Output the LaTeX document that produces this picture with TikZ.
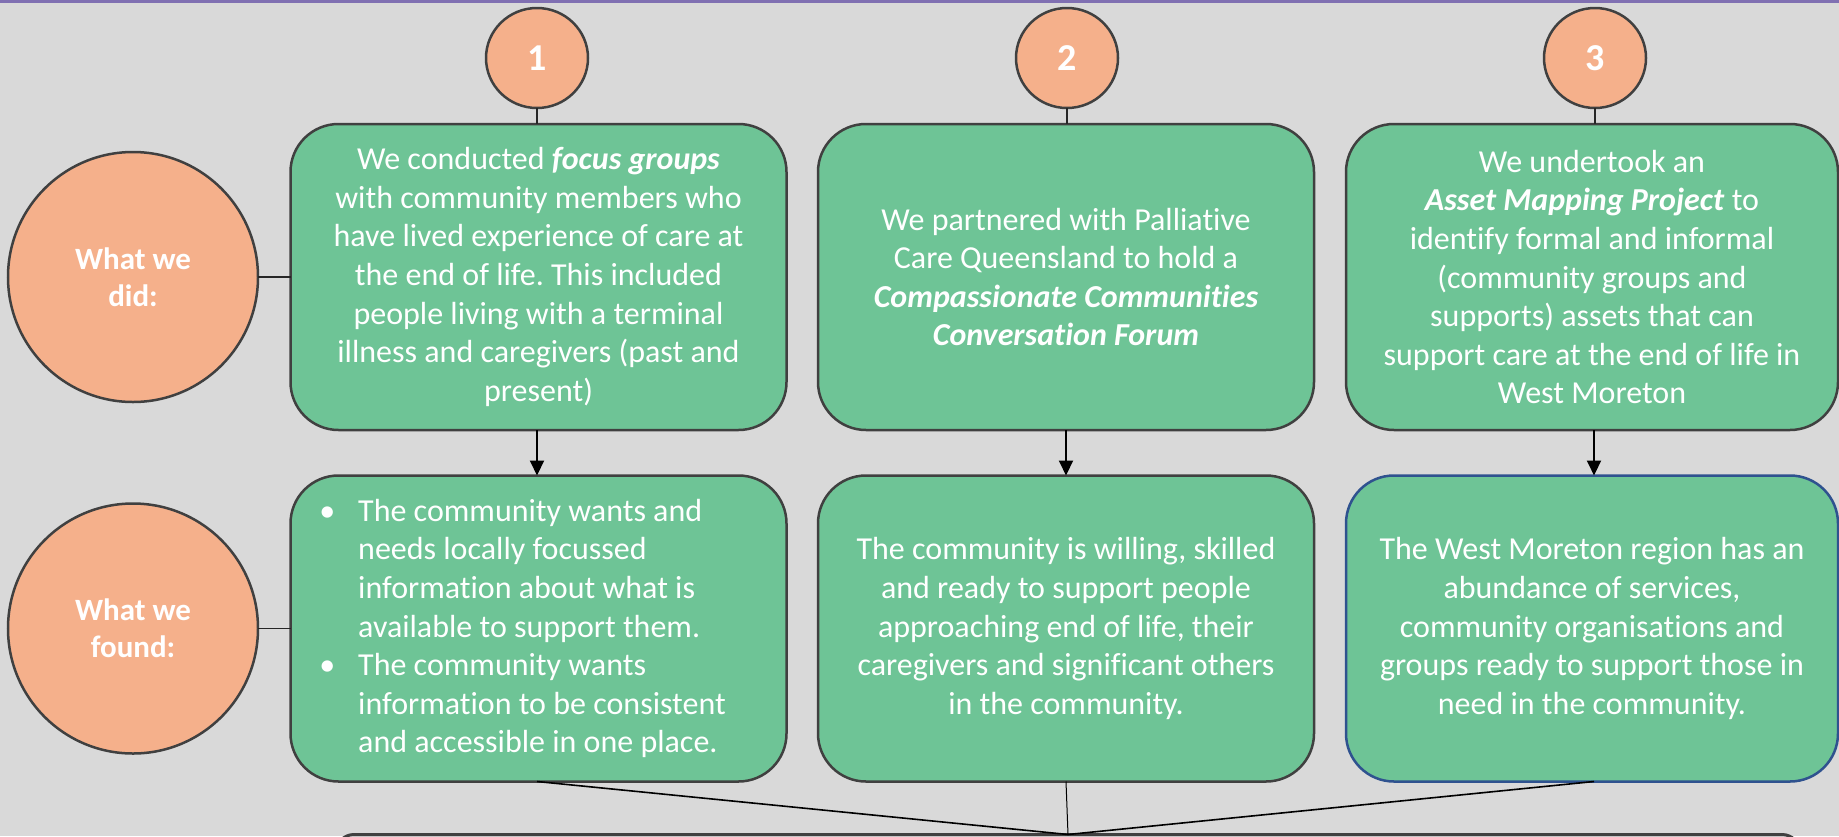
\documentclass[tikz,border=0pt]{standalone}
\usepackage{fontspec}
\setmainfont{Carlito}[Ligatures={NoCommon,NoRequired,NoContextual}]
\frenchspacing
\usetikzlibrary{arrows.meta,shapes.geometric}
\definecolor{bg}{RGB}{217,217,217}
\definecolor{boxgreen}{RGB}{110,196,150}
\definecolor{circorange}{RGB}{245,176,139}
\definecolor{edge}{RGB}{64,64,64}
\definecolor{blueedge}{RGB}{47,82,143}
\definecolor{topline}{RGB}{128,112,178}
\tikzset{
  stepbox/.style={draw=edge, line width=2.5pt, fill=boxgreen, rounded corners=48pt,
    minimum width=496pt, minimum height=306pt, inner sep=0pt, outer sep=0pt,
    text=white, align=center, font=\fontsize{32}{38.6}\selectfont},
  numcirc/.style={ellipse, draw=edge, line width=2.5pt, fill=circorange,
    minimum width=102pt, minimum height=100pt, inner sep=0pt, outer sep=0pt,
    text=white, font=\fontsize{38}{40}\selectfont\bfseries},
  labcirc/.style={ellipse, draw=edge, line width=2.5pt, fill=circorange,
    minimum width=250pt, minimum height=250pt, inner sep=0pt, outer sep=0pt,
    text=white, align=center, font=\fontsize{31}{37}\selectfont\bfseries},
  txt/.style={text=white, inner sep=0pt, font=\fontsize{32}{38.6}\selectfont},
  thinlink/.style={draw=black!85, line width=1.5pt},
  arrowlink/.style={draw=black, line width=2pt, -{Triangle[width=14pt,length=15pt]}},
  joinlink/.style={draw=black, line width=1.6pt},
}
\begin{document}
\begin{tikzpicture}[x=1pt,y=-1pt]
\useasboundingbox (0,0) rectangle (1839,836);
\fill[bg] (0,0) rectangle (1839,836);
\fill[topline] (0,0) rectangle (1839,2.5);

% left label circles
\node[labcirc] (did) at (133,277) {What we\\did:};
\node[labcirc] (found) at (133,628.5) {What we\\found:};

% number circles
\node[numcirc] (n1) at (537,58) {1};
\node[numcirc] (n2) at (1067,58) {2};
\node[numcirc] (n3) at (1595,58) {3};

% row 1 boxes
\node[stepbox] (a1) at (538.5,277) {We conducted \textbf{\textit{focus groups}}\\with community members who\\have lived experience of care at\\the end of life. This included\\people living with a terminal\\illness and caregivers (past and\\present)};
\node[stepbox] (a2) at (1066,277) {We partnered with Palliative\\Care Queensland to hold a\\\textbf{\textit{Compassionate Communities}}\\\textbf{\textit{Conversation Forum}}};
\node[stepbox, minimum width=492pt] (a3) at (1592,277) {We undertook an\\\textbf{\textit{Asset Mapping Project}} to\\identify formal and informal\\(community groups and\\supports) assets that can\\support care at the end of life in\\West Moreton};

% row 2 boxes
\node[stepbox] (b1) at (538.5,628.5) {};
\node[txt, align=left, anchor=west] (b1t) at (358,628.5) {\llap{\textbullet\hspace{23pt}}The community wants and\\needs locally focussed\\information about what is\\available to support them.\\\llap{\textbullet\hspace{23pt}}The community wants\\information to be consistent\\and accessible in one place.};
\node[stepbox] (b2) at (1066,628.5) {The community is willing, skilled\\and ready to support people\\approaching end of life, their\\caregivers and significant others\\in the community.};
\node[stepbox, draw=blueedge, minimum width=492pt] (b3) at (1592,628.5) {The West Moreton region has an\\abundance of services,\\community organisations and\\groups ready to support those in\\need in the community.};

% bottom box (mostly off page)
\node[draw=edge, line width=3pt, fill=bg, rounded corners=18pt, minimum width=1464pt,
  minimum height=120pt, inner sep=0pt, outer sep=0pt, anchor=north] (bottom) at (1068,834.5) {};

% connectors
\draw[thinlink] (did.east) -- (a1.west);
\draw[thinlink] (found.east) -- (b1.west);
\draw[thinlink] (n1.south) -- (n1.south |- a1.north);
\draw[thinlink] (n2.south) -- (n2.south |- a2.north);
\draw[thinlink] (n3.south) -- (n3.south |- a3.north);
\draw[arrowlink] ([xshift=-1.5pt]a1.south) -- ([xshift=-1.5pt]b1.north);
\draw[arrowlink] (a2.south) -- (b2.north);
\draw[arrowlink] ([xshift=2pt]a3.south) -- ([xshift=2pt]b3.north);
\draw[joinlink] ([xshift=-1.5pt]b1.south) -- (bottom.north);
\draw[draw=black, line width=1pt] (b2.south) -- (bottom.north);
\draw[joinlink] ([xshift=2pt]b3.south) -- (bottom.north);
\end{tikzpicture}
\end{document}
